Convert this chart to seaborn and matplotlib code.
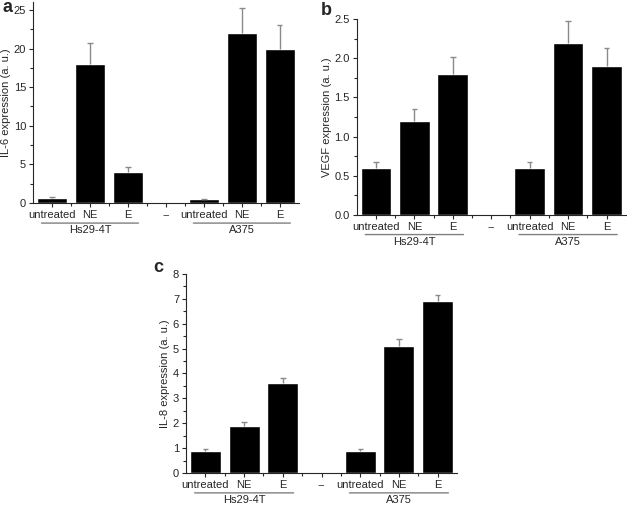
import numpy as np
import pandas as pd
import matplotlib
matplotlib.use("Agg")
import matplotlib.pyplot as plt
import seaborn as sns
from matplotlib.ticker import AutoMinorLocator, MultipleLocator, FixedLocator

# data
keys = ["hs_untreated", "hs_NE", "hs_E", "gap", "a_untreated", "a_NE", "a_E"]
tick_labels = ["untreated", "NE", "E", "--", "untreated", "NE", "E"]
groups = ["Hs29-4T", "A375"]

il6 = [0.7, 18.0, 4.0, 0.0, 0.5, 22.0, 20.0]
il6_err = [0.1, 2.7, 0.6, 0.0, 0.05, 3.3, 3.0]
vegf = [0.6, 1.2, 1.8, 0.0, 0.6, 2.2, 1.9]
vegf_err = [0.07, 0.15, 0.22, 0.0, 0.07, 0.27, 0.23]
il8 = [0.9, 1.9, 3.6, 0.0, 0.9, 5.1, 6.9]
il8_err = [0.08, 0.15, 0.22, 0.0, 0.08, 0.27, 0.25]

sns.set_style("ticks")
plt.rcParams['font.family'] = ['Liberation Sans', 'DejaVu Sans']
plt.rcParams['font.size'] = 8

fig = plt.figure(figsize=(6.27, 5.07), dpi=100)

panels = [
    ("a", il6, il6_err, "IL-6 expression (a. u.)", (0.0526, 0.5996, 0.424, 0.396), 26, 5, (0.012, 0.985)),
    ("b", vegf, vegf_err, "VEGF expression (a. u.)", (0.569, 0.576, 0.429, 0.3865), 2.5, 0.5, (0.52, 0.98)),
    ("c", il8, il8_err, "IL-8 expression (a. u.)", (0.2967, 0.0671, 0.4322, 0.3925), 8, 1, (0.253, 0.473)),
]

for letter, vals, errs, ylabel, rect, ymax, step, lpos in panels:
    ax = fig.add_axes(rect)
    df = pd.DataFrame({"key": keys, "value": vals})
    sns.barplot(data=df, x="key", y="value", order=keys, color="black",
                saturation=1, width=0.8, ax=ax)
    x = np.arange(len(keys))
    v = np.array(vals)
    e = np.array(errs)
    m = v > 0
    # upper-only error bars
    ax.vlines(x[m], v[m], v[m] + e[m], color="#8a8a8a", lw=1)
    ax.hlines(v[m] + e[m], x[m] - 0.07, x[m] + 0.07, color="#8a8a8a", lw=1)
    ax.set_xlim(-0.5, 6.5)
    ax.set_ylim(0, ymax)
    ax.yaxis.set_major_locator(MultipleLocator(step))
    ax.yaxis.set_minor_locator(AutoMinorLocator(2))
    ax.xaxis.set_minor_locator(FixedLocator(x[:-1] + 0.5))
    ax.set_xticks(x)
    ax.set_xticklabels(tick_labels)
    ax.set_xlabel("")
    ax.set_ylabel(ylabel, labelpad=2, fontsize=8)
    ax.tick_params(axis="both", which="major", length=3, width=0.8, pad=2,
                   labelsize=8)
    ax.tick_params(axis="both", which="minor", length=2, width=0.8)
    sns.despine(ax=ax)
    for s in ("left", "bottom"):
        ax.spines[s].set_linewidth(0.8)

    # group underline and label below tick labels
    for g, (lo, hi) in zip(groups, [(-0.35, 2.35), (3.65, 6.35)]):
        ax.annotate("", xy=(lo, -0.1), xytext=(hi, -0.1),
                    xycoords=("data", "axes fraction"),
                    arrowprops=dict(arrowstyle="-", color="#808080", lw=1))
        ax.text((lo + hi) / 2, -0.11, g, transform=ax.get_xaxis_transform(),
                ha="center", va="top", fontsize=8)

    fig.text(lpos[0], lpos[1], letter, fontsize=13, fontweight="bold",
             ha="center", va="center")

fig.savefig("out.png", dpi=100)
